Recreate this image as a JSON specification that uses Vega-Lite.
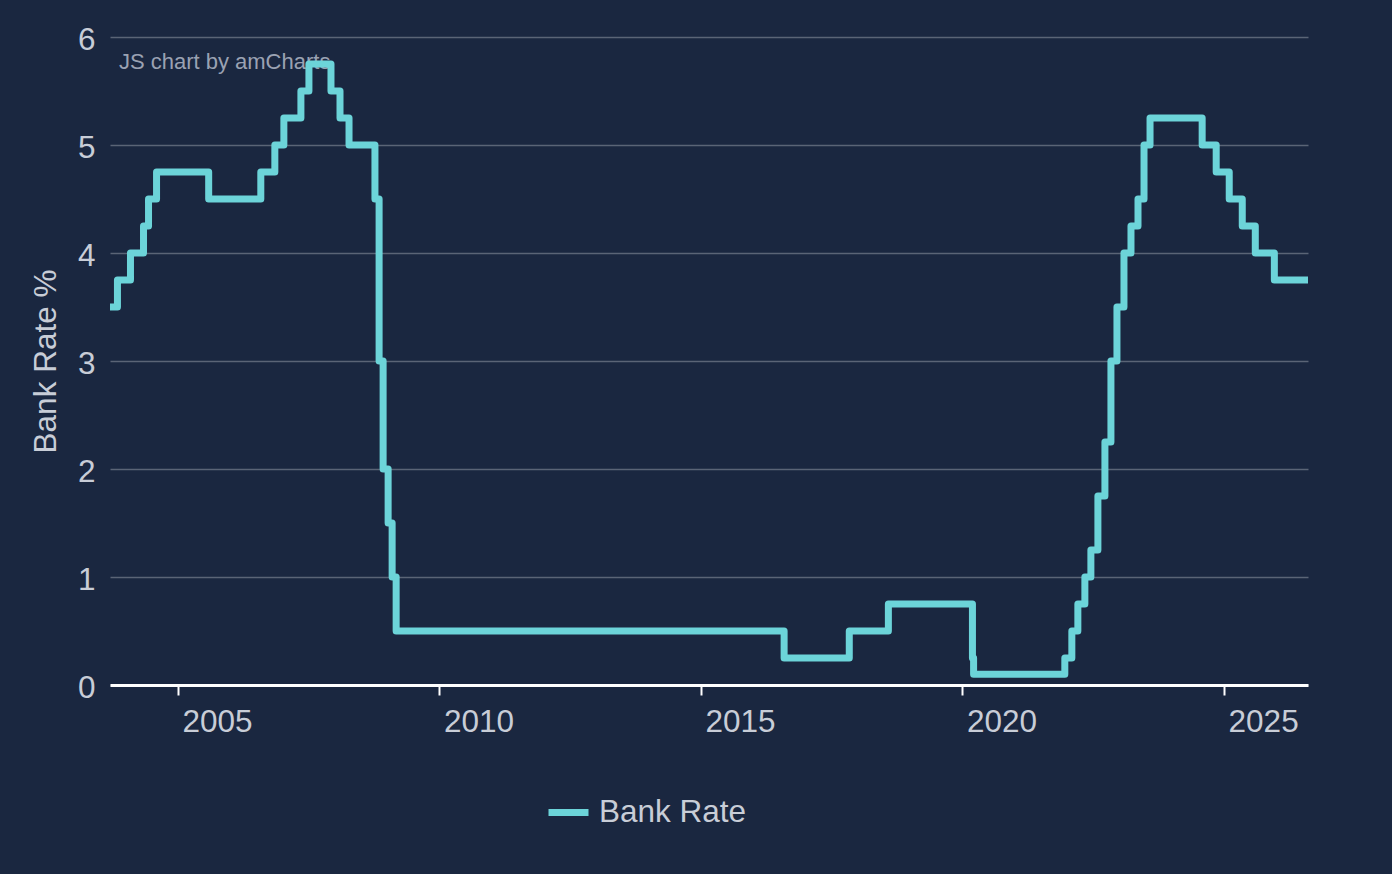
{
  "$schema": "https://vega.github.io/schema/vega-lite/v6.json",
  "description": "UK Bank Rate, step line",
  "width": 1198,
  "height": 648,
  "autosize": "none",
  "padding": {"left": 110, "top": 37, "right": 84, "bottom": 189},
  "background": "#1a2740",
  "config": {
    "view": {"stroke": null},
    "font": "Liberation Sans",
    "axis": {
      "labelFont": "Liberation Sans",
      "labelFontSize": 31.5,
      "labelColor": "#c8cdd7",
      "titleFont": "Liberation Sans",
      "titleFontSize": 31.5,
      "titleFontWeight": "normal",
      "titleColor": "#c8cdd7"
    },
    "legend": {
      "labelFont": "Liberation Sans",
      "labelFontSize": 31.5,
      "labelColor": "#c8cdd7"
    }
  },
  "data": {
    "values": [
      {"date": "2003-09-15", "rate": 3.5},
      {"date": "2003-11-06", "rate": 3.75},
      {"date": "2004-02-05", "rate": 4.0},
      {"date": "2004-05-06", "rate": 4.25},
      {"date": "2004-06-10", "rate": 4.5},
      {"date": "2004-08-05", "rate": 4.75},
      {"date": "2005-08-04", "rate": 4.5},
      {"date": "2006-08-03", "rate": 4.75},
      {"date": "2006-11-09", "rate": 5.0},
      {"date": "2007-01-11", "rate": 5.25},
      {"date": "2007-05-10", "rate": 5.5},
      {"date": "2007-07-05", "rate": 5.75},
      {"date": "2007-12-06", "rate": 5.5},
      {"date": "2008-02-07", "rate": 5.25},
      {"date": "2008-04-10", "rate": 5.0},
      {"date": "2008-10-08", "rate": 4.5},
      {"date": "2008-11-06", "rate": 3.0},
      {"date": "2008-12-04", "rate": 2.0},
      {"date": "2009-01-08", "rate": 1.5},
      {"date": "2009-02-05", "rate": 1.0},
      {"date": "2009-03-05", "rate": 0.5},
      {"date": "2016-08-04", "rate": 0.25},
      {"date": "2017-11-02", "rate": 0.5},
      {"date": "2018-08-02", "rate": 0.75},
      {"date": "2020-03-11", "rate": 0.25},
      {"date": "2020-03-19", "rate": 0.1},
      {"date": "2021-12-16", "rate": 0.25},
      {"date": "2022-02-03", "rate": 0.5},
      {"date": "2022-03-17", "rate": 0.75},
      {"date": "2022-05-05", "rate": 1.0},
      {"date": "2022-06-16", "rate": 1.25},
      {"date": "2022-08-04", "rate": 1.75},
      {"date": "2022-09-22", "rate": 2.25},
      {"date": "2022-11-03", "rate": 3.0},
      {"date": "2022-12-15", "rate": 3.5},
      {"date": "2023-02-02", "rate": 4.0},
      {"date": "2023-03-23", "rate": 4.25},
      {"date": "2023-05-11", "rate": 4.5},
      {"date": "2023-06-22", "rate": 5.0},
      {"date": "2023-08-03", "rate": 5.25},
      {"date": "2024-08-01", "rate": 5.0},
      {"date": "2024-11-07", "rate": 4.75},
      {"date": "2025-02-06", "rate": 4.5},
      {"date": "2025-05-08", "rate": 4.25},
      {"date": "2025-08-07", "rate": 4.0},
      {"date": "2025-12-18", "rate": 3.75},
      {"date": "2026-08-10", "rate": 3.75}
    ]
  },
  "layer": [
    {
      "data": {"values": [{"note": "JS chart by amCharts"}]},
      "mark": {
        "type": "text",
        "align": "left",
        "baseline": "middle",
        "fontSize": 22,
        "color": "#9aa2b3"
      },
      "encoding": {
        "x": {"datum": {"year": 2003, "month": 11, "date": 16, "utc": true}, "type": "temporal"},
        "y": {"datum": 5.77, "type": "quantitative"},
        "text": {"field": "note"}
      }
    },
    {
      "mark": {
        "type": "line",
        "interpolate": "step-after",
        "strokeWidth": 7,
        "strokeJoin": "round",
        "strokeCap": "butt"
      },
      "encoding": {
        "x": {
          "field": "date",
          "type": "temporal",
          "scale": {
            "type": "utc",
            "domain": [
              {"year": 2003, "month": 9, "date": 15, "utc": true},
              {"year": 2026, "month": 8, "date": 10, "utc": true}
            ]
          },
          "axis": {
            "title": null,
            "values": [
              {"year": 2005, "month": 1, "date": 1, "utc": true},
              {"year": 2010, "month": 1, "date": 1, "utc": true},
              {"year": 2015, "month": 1, "date": 1, "utc": true},
              {"year": 2020, "month": 1, "date": 1, "utc": true},
              {"year": 2025, "month": 1, "date": 1, "utc": true}
            ],
            "format": "%Y",
            "grid": false,
            "domainColor": "#ffffff",
            "domainWidth": 3,
            "tickColor": "#ffffff",
            "tickWidth": 2,
            "tickSize": 10,
            "labelAlign": "left",
            "labelOffset": 4,
            "labelPadding": 11
          }
        },
        "y": {
          "field": "rate",
          "type": "quantitative",
          "scale": {"domain": [0, 6], "nice": false},
          "axis": {
            "title": "Bank Rate %",
            "values": [0, 1, 2, 3, 4, 5, 6],
            "format": "d",
            "domain": false,
            "ticks": false,
            "grid": true,
            "gridColor": "#5a6476",
            "gridWidth": 1.5,
            "labelPadding": 15,
            "labelOffset": 3,
            "titlePadding": 15
          }
        },
        "color": {
          "datum": "Bank Rate",
          "scale": {"range": ["#6cd4d9"]},
          "legend": {
            "title": null,
            "orient": "none",
            "legendX": 435,
            "legendY": 752,
            "padding": 0,
            "symbolType": "stroke",
            "symbolSize": 1600,
            "symbolStrokeWidth": 7,
            "labelOffset": 7
          }
        }
      }
    }
  ]
}
